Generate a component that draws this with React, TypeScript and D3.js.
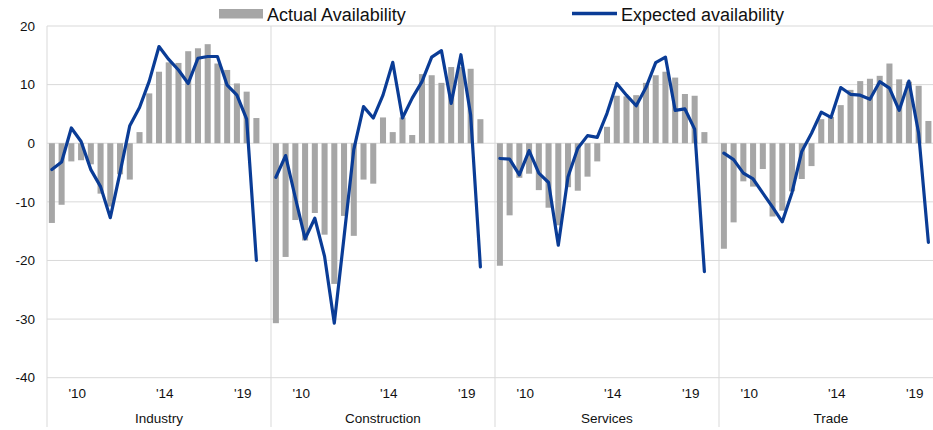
import React from "react";
import * as d3 from "d3";

const panels = ["Industry", "Construction", "Services", "Trade"];

const industryActual = [-13.6, -10.5, -3.1, -2.9, -3.6, -8.6, -10.8, -5.3, -6.2, 1.9, 8.5, 12.2, 13.8, 13.7, 15.7, 16.2, 16.9, 13.6, 12.5, 10.2, 8.8, 4.3];
const industryExpected = [-4.5, -3.2, 2.6, 0.3, -4.5, -7.4, -12.7, -5.0, 3.0, 6.1, 10.6, 16.5, 14.3, 12.5, 10.2, 14.5, 14.8, 14.8, 9.9, 8.2, 4.1, -20.0];

const constructionActual = [-30.7, -19.4, -13.1, -16.6, -11.9, -15.6, -24.0, -12.4, -15.8, -6.2, -6.9, 4.4, 1.9, 4.4, 1.4, 11.8, 11.6, 10.3, 13.0, 13.0, 12.7, 4.1];
const constructionExpected = [-5.8, -2.1, -9.3, -16.3, -12.8, -19.3, -30.7, -16.0, -1.1, 6.25, 4.3, 8.2, 13.8, 4.3, 7.7, 10.5, 14.7, 15.8, 6.8, 15.1, 4.8, -21.1];

const servicesActual = [-20.9, -12.3, -5.9, -5.2, -8.0, -11.0, -14.0, -7.5, -8.1, -5.7, -3.1, 2.8, 8.1, 8.0, 8.2, 10.3, 11.6, 12.2, 11.2, 8.4, 8.1, 1.9];
const servicesExpected = [-2.6, -2.7, -5.4, -1.25, -5.1, -6.7, -17.4, -5.7, -0.85, 1.3, 1.0, 5.1, 10.2, 8.2, 6.4, 9.5, 13.75, 14.7, 5.6, 5.85, 2.4, -21.9];

const tradeActual = [-18.0, -13.5, -6.5, -7.4, -4.4, -12.5, -11.5, -8.2, -6.1, -3.9, 4.1, 4.5, 6.5, 9.1, 10.6, 11.0, 11.5, 13.6, 10.9, 10.5, 9.8, 3.8];
const tradeExpected = [-1.7, -2.8, -5.1, -6.1, -8.5, -10.9, -13.4, -8.4, -1.4, 1.7, 5.3, 4.4, 9.5, 8.35, 8.2, 7.5, 10.5, 9.4, 5.6, 10.6, 1.7, -16.9];

const actualSeries = [industryActual, constructionActual, servicesActual, tradeActual];
const expectedSeries = [industryExpected, constructionExpected, servicesExpected, tradeExpected];

const slotCount = 23; // 22 periods + one empty slot per panel
const yearLabels = ["'10", "'14", "'19"];
const yearSlots = [2.6, 11.6, 19.6];
const yTicks = [20, 10, 0, -10, -20, -30, -40];

const W = 933;
const H = 430;
const plotLeft = 47;
const panelW = 224;
const plotTop = 26;
const plotBottom = 377.7;
const axisBottom = 427;

const BAR = "#a6a6a6";
const LINE = "#0a3c96";
const GRID = "#d9d9d9";
const FONT = "Arial, 'Liberation Sans', Helvetica, sans-serif";

export default function App() {
  const y = d3.scaleLinear().domain([-40, 20]).range([plotBottom, plotTop]);
  const outer = d3
    .scaleBand<string>()
    .domain(panels)
    .range([plotLeft, plotLeft + panelW * panels.length]);

  return (
    <svg
      width={W}
      height={H}
      style={{ position: "absolute", left: 0, top: 0, background: "#fff" }}
      fontFamily={FONT}
    >
      {/* horizontal gridlines */}
      {yTicks.map((t) => (
        <line key={t} x1={plotLeft} x2={W} y1={y(t)} y2={y(t)} stroke={GRID} strokeWidth={1} />
      ))}
      {/* y tick labels */}
      {yTicks.map((t) => (
        <text key={"l" + t} x={35} y={y(t) + 4.7} textAnchor="end" fontSize={13.5} fill="#111">
          {t}
        </text>
      ))}
      {panels.map((p, pi) => {
        const x0 = outer(p) as number;
        const band = d3
          .scaleBand<number>()
          .domain(d3.range(slotCount))
          .range([x0, x0 + panelW])
          .paddingInner(0.38)
          .paddingOuter(0.19);
        const slotPos = d3.scaleLinear().domain([-0.5, slotCount - 0.5]).range([x0, x0 + panelW]);
        const actual = actualSeries[pi];
        const expected = expectedSeries[pi];
        const line = d3
          .line<number>()
          .x((_, i) => (band(i) as number) + band.bandwidth() / 2)
          .y((v) => y(v));
        return (
          <g key={p}>
            <line x1={x0} x2={x0} y1={plotTop} y2={axisBottom} stroke={GRID} strokeWidth={1} />
            {actual.map((v, i) => (
              <rect
                key={i}
                x={band(i)}
                width={band.bandwidth()}
                y={Math.min(y(v), y(0))}
                height={Math.abs(y(v) - y(0))}
                fill={BAR}
              />
            ))}
            <path d={line(expected) || ""} fill="none" stroke={LINE} strokeWidth={3.2} strokeLinejoin="round" strokeLinecap="round" />
            {yearLabels.map((lab, k) => (
              <text key={lab} x={slotPos(yearSlots[k])} y={398} textAnchor="middle" fontSize={13.5} fill="#111">
                {lab}
              </text>
            ))}
            <text x={x0 + panelW / 2} y={423} textAnchor="middle" fontSize={13.5} fill="#111">
              {p}
            </text>
          </g>
        );
      })}
      {/* legend */}
      <rect x={219} y={9} width={44} height={9.5} fill={BAR} />
      <text x={267} y={20.5} fontSize={18} fill="#111">
        Actual Availability
      </text>
      <line x1={572} x2={617} y1={13.5} y2={13.5} stroke={LINE} strokeWidth={3.5} />
      <text x={621} y={20.5} fontSize={18} fill="#111">
        Expected availability
      </text>
    </svg>
  );
}
